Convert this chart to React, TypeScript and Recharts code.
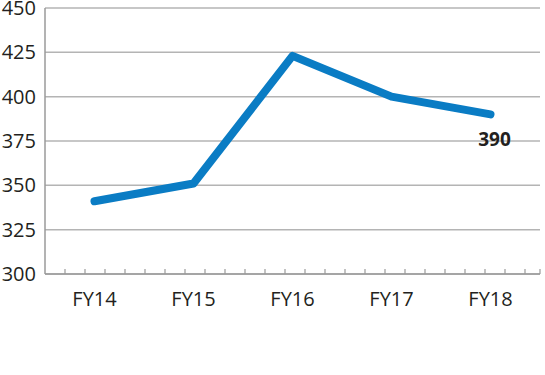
import React from 'react';
import {
  LineChart,
  Line,
  XAxis,
  YAxis,
  CartesianGrid,
  ReferenceLine,
} from 'recharts';

const years = ['FY14', 'FY15', 'FY16', 'FY17', 'FY18'];
const revenue = [341, 351, 423, 400, 390];
const yTicks = [300, 325, 350, 375, 400, 425, 450];
const minorTicks = [1, 2, 3, 4, 5, 6, 7, 8, 9, 10, 11, 12, 13, 14, 15, 16, 17, 18, 19, 20, 21, 22, 23, 24, 24.75];

const chartData = years.map((year, i) => ({ year, value: revenue[i] }));

const font = '"Open Sans", "Noto Sans", sans-serif';
const textColor = '#231f20';

// only the last point carries a value label
const LastLabel = (props: any) => {
  const { x, y, index, value } = props;
  if (index !== chartData.length - 1) return null;
  return (
    <text x={x + 4} y={y + 32} textAnchor="middle" fontFamily={font} fontSize={19} fontWeight={700} fill={textColor}>
      {value}
    </text>
  );
};

export default function App() {
  return (
    <div style={{ position: 'absolute', left: 0, top: 0, background: '#fff' }}>
      <LineChart
        width={545}
        height={375}
        data={chartData}
        margin={{ top: 8, right: 5, left: 0, bottom: 61 }}
      >
        <CartesianGrid vertical={false} stroke="#b4b4b4" strokeWidth={1.5} />
        <XAxis
          dataKey="year"
          padding={{ left: 49.5, right: 49.5 }}
          axisLine={{ stroke: '#9a9a9a', strokeWidth: 1.5 }}
          tickLine={false}
          tickSize={0}
          tickMargin={18}
          height={40}
          tick={{ fontFamily: font, fontSize: 20, fill: textColor }}
        />
        {/* hidden numeric axis, only used to place the small minor ticks */}
        <XAxis
          xAxisId="minor"
          dataKey="value"
          type="number"
          domain={[0, 24.75]}
          allowDataOverflow
          hide
        />
        <YAxis
          domain={[300, 450]}
          ticks={yTicks}
          width={45}
          axisLine={{ stroke: '#9a9a9a', strokeWidth: 1.5 }}
          tickLine={false}
          tickSize={0}
          tickMargin={9}
          interval={0}
          tick={{ fontFamily: font, fontSize: 20, fill: textColor }}
        />
        {minorTicks.map((t) => (
          <ReferenceLine
            key={t}
            xAxisId="minor"
            segment={[{ x: t, y: 300 }, { x: t, y: 302.8 }]}
            stroke="#9a9a9a"
            strokeWidth={1.2}
            ifOverflow="visible"
          />
        ))}
        <Line
          dataKey="value"
          stroke="#0a7cc4"
          strokeWidth={8}
          strokeLinecap="round"
          strokeLinejoin="round"
          dot={false}
          activeDot={false}
          label={<LastLabel />}
          isAnimationActive={false}
        />
      </LineChart>
    </div>
  );
}
